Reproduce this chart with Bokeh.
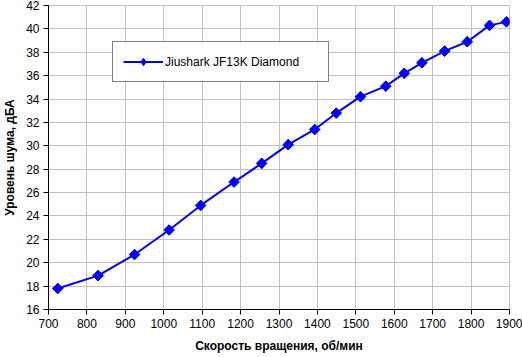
import math
from bokeh.plotting import figure
from bokeh.models import ColumnDataSource, Legend, LegendItem, SingleIntervalTicker
from bokeh.embed import file_html
from bokeh.resources import INLINE

rpm = [724, 829, 924, 1014, 1096, 1183, 1255, 1324, 1393, 1449, 1512, 1578, 1626, 1672, 1731, 1790, 1848, 1892]
noise = [17.8, 18.9, 20.7, 22.8, 24.9, 26.9, 28.5, 30.1, 31.4, 32.8, 34.2, 35.1, 36.2, 37.1, 38.1, 38.9, 40.3, 40.6]
series_name = "Jiushark JF13K Diamond"
x_title = "Скорость вращения, об/мин"
y_title = "Уровень шума, дБА"

src = ColumnDataSource(dict(x=rpm, y=noise))

p = figure(width=522, height=357, x_range=(700, 1900), y_range=(16, 42),
           output_backend="svg", toolbar_location=None,
           min_border_left=46, min_border_right=13, min_border_top=5, min_border_bottom=48)
p.background_fill_color = "white"
p.border_fill_color = "white"
p.outline_line_color = "#c0c0c0"

font = "Liberation Sans"
for ax in (p.xaxis[0], p.yaxis[0]):
    ax.axis_line_color = "black"
    ax.major_tick_line_color = "black"
    ax.major_tick_out = 5
    ax.major_tick_in = 0
    ax.minor_tick_line_color = None
    ax.major_label_text_font = font
    ax.major_label_text_font_size = "12px"
    ax.major_label_text_color = "black"
    ax.axis_label_text_font = font
    ax.axis_label_text_font_size = "12px"
    ax.axis_label_text_font_style = "bold"
    ax.axis_label_text_color = "black"
    ax.major_label_standoff = 4
    ax.axis_label_standoff = 8

p.xaxis[0].ticker = SingleIntervalTicker(interval=100)
p.yaxis[0].ticker = SingleIntervalTicker(interval=2)
p.xaxis.axis_label = x_title
p.yaxis.axis_label = y_title
p.yaxis[0].axis_label_standoff = 6

p.xgrid.grid_line_color = "#c0c0c0"
p.ygrid.grid_line_color = "#c0c0c0"
p.xgrid.grid_line_width = 1
p.ygrid.grid_line_width = 1

ln = p.line("x", "y", source=src, line_color="#0000ff", line_width=2)
dm = p.scatter("x", "y", source=src, marker="diamond", size=10,
               fill_color="#0000ff", line_color="#0000ff")
mk = p.scatter("x", "y", source=src, marker="square", angle=math.pi / 4, size=7.5,
               fill_color="#0000ff", line_color="#0000ff")

legend = Legend(items=[LegendItem(label=series_name, renderers=[ln, dm])],
                location=(64, 227), padding=10, glyph_width=40, glyph_height=19, label_height=19,
                label_standoff=2, label_width=153,
                border_line_color="black", border_line_width=1,
                background_fill_color="white", background_fill_alpha=1,
                label_text_font=font, label_text_font_size="12px", label_text_color="black")
p.add_layout(legend, "center")

open("out.html", "w").write(file_html(p, INLINE))
